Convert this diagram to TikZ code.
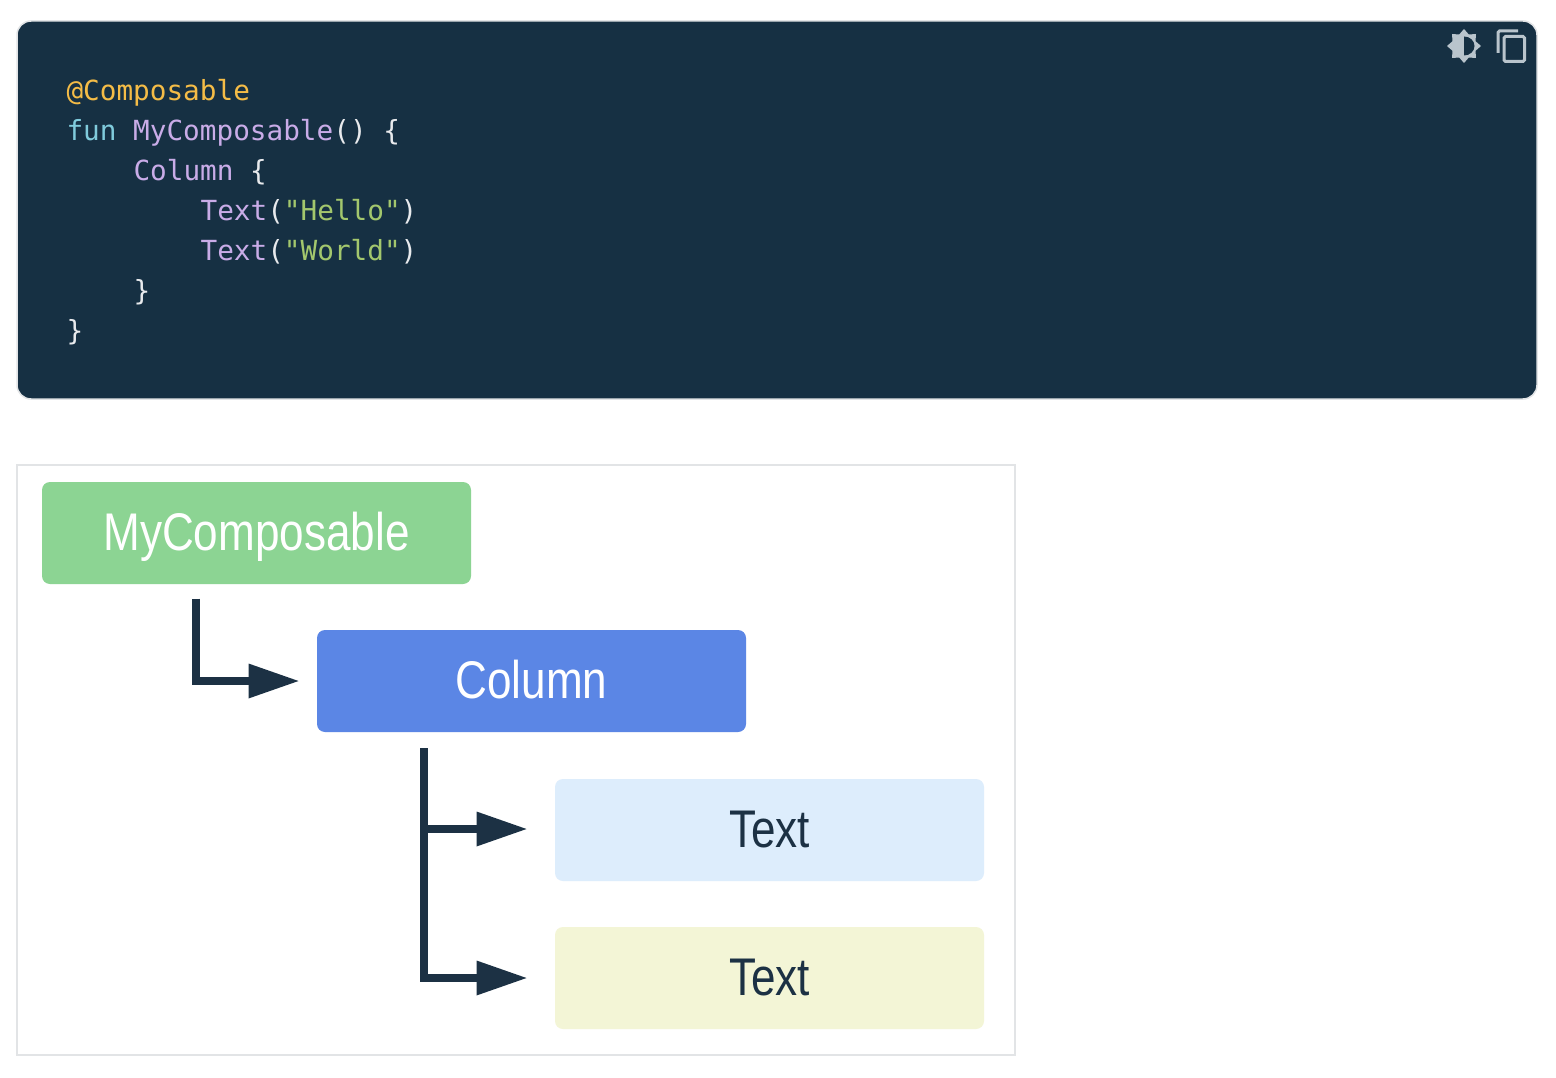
\documentclass[tikz,border=0pt]{standalone}
\usepackage{fontspec}
\setmonofont{DejaVu Sans Mono}
\newfontfamily\boxfont[FakeStretch=0.832]{Liberation Sans}
\usetikzlibrary{arrows.meta}
\definecolor{codebg}{HTML}{163043}
\definecolor{ink}{HTML}{1C3144}
\definecolor{cyell}{HTML}{F4BC47}
\definecolor{ccyan}{HTML}{80CBDC}
\definecolor{cpurp}{HTML}{C9ACE8}
\definecolor{cgreen}{HTML}{A3C76D}
\definecolor{cwhite}{HTML}{E8EAED}
\definecolor{icon}{HTML}{B9C4CC}
\definecolor{edge}{HTML}{E2E4E6}
\definecolor{cgr}{HTML}{8CD493}
\definecolor{cbl}{HTML}{5B86E5}
\definecolor{clb}{HTML}{DDEDFC}
\definecolor{cly}{HTML}{F3F5D6}
\tikzset{
  x=1pt,y=-1pt,
  panel/.style={draw=edge,line width=1.5pt,inner sep=0pt,outer sep=0pt},
  treebox/.style={rounded corners=8pt,inner sep=0pt,outer sep=0pt,minimum width=429pt,minimum height=102pt,
    text height=34pt,text depth=0pt,font=\boxfont\fontsize{53}{60}\selectfont},
  code/.style={anchor=base west,inner sep=0pt,outer sep=0pt,font=\ttfamily\fontsize{27.7}{40}\selectfont,text=cwhite},
  conn/.style={draw=ink,line width=8pt,miter limit=10,-{Triangle[length=50pt,width=35pt,fill=ink,line width=0pt]}},
  iconline/.style={draw=icon,line width=3pt}
}
\newcommand{\cY}[1]{\textcolor{cyell}{#1}}
\newcommand{\cC}[1]{\textcolor{ccyan}{#1}}
\newcommand{\cP}[1]{\textcolor{cpurp}{#1}}
\newcommand{\cG}[1]{\textcolor{cgreen}{#1}}
\begin{document}
\begin{tikzpicture}
\useasboundingbox (0,0) rectangle (1556,1078);
\fill[white] (0,0) rectangle (1556,1078);
% code panel
\node[panel,rounded corners=14pt,fill=codebg,minimum width=1520pt,minimum height=378pt] (codepanel) at (777,210) {};
\node[code] (l1) at (66.5,101) {\cY{@Composable}};
\node[code] (l2) at (66.5,141) {\cC{fun} \cP{MyComposable}() \{};
\node[code] (l3) at (133.5,181) {\cP{Column} \{};
\node[code] (l4) at (200.6,221) {\cP{Text}(\cG{"Hello"})};
\node[code] (l5) at (200.6,261) {\cP{Text}(\cG{"World"})};
\node[code] (l6) at (133.5,300) {\}};
\node[code] (l7) at (66.5,340) {\}};
% icons
\fill[icon] (1481,46) -- (1475.5,41.2) -- (1476,34) -- (1468.8,34.5) -- (1464,29) -- (1459.2,34.5) -- (1452,34) -- (1452.5,41.2)
  -- (1447,46) -- (1452.5,50.8) -- (1452,58) -- (1459.2,57.5) -- (1464,63) -- (1468.8,57.5) -- (1476,58) -- (1475.5,50.8) -- cycle;
\fill[codebg] (1464,36.5) arc[start angle=-90,end angle=90,x radius=10.5pt,y radius=-9.5pt] -- cycle;
\draw[iconline,rounded corners=1.5pt] (1498,53) -- (1498,31) -- (1518,31);
\draw[iconline,rounded corners=1.5pt] (1504,36.5) rectangle (1524.5,61.5);
% tree frame
\node[panel,fill=white,minimum width=998pt,minimum height=590pt] (frame) at (516,760) {};
\node[treebox,fill=cgr,text=white] (mc) at (256.5,533) {MyComposable};
\node[treebox,fill=cbl,text=white] (col) at (531.5,681) {Column};
\node[treebox,fill=clb,text=ink] (t1) at (769.5,830) {Text};
\node[treebox,fill=cly,text=ink] (t2) at (769.5,978) {Text};
% connectors
\draw[conn] ([xshift=153.5pt,yshift=-14.5pt]mc.south west) |- ([xshift=-18.5pt]col.west);
\draw[conn] ([xshift=106.5pt,yshift=-16pt]col.south west) |- ([xshift=-28.5pt,yshift=1pt]t1.west);
\draw[conn] ([xshift=106.5pt,yshift=-16pt]col.south west) |- ([xshift=-28.5pt]t2.west);
\end{tikzpicture}
\end{document}
